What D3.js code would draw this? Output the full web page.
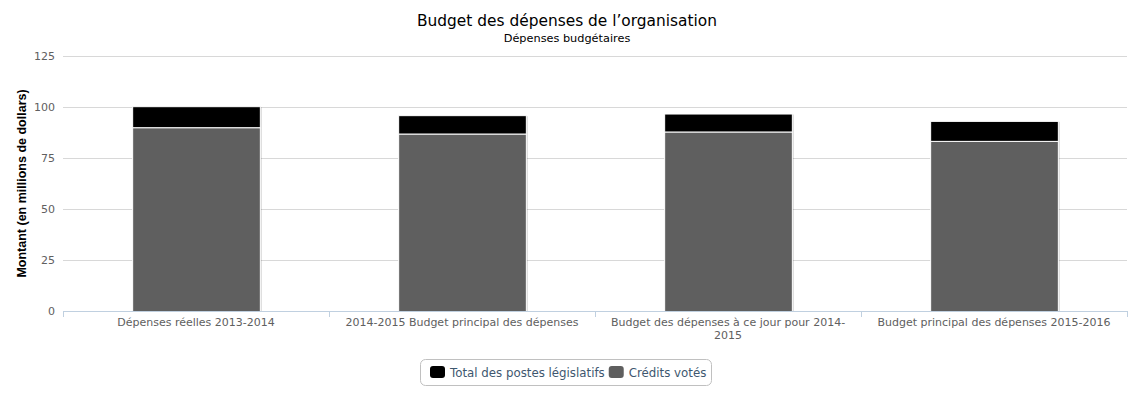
<!DOCTYPE html>
<html><head><meta charset="utf-8">
<script src="https://cdn.jsdelivr.net/npm/d3@7"></script>
<style>body{margin:0;background:#fff}svg{display:block}</style>
</head><body>
<svg id="c" width="1135" height="397"></svg>
<script>
const categories = ["Dépenses réelles 2013-2014", "2014-2015 Budget principal des dépenses", "Budget des dépenses à ce jour pour 2014-2015", "Budget principal des dépenses 2015-2016"];
const creditsVotes = [90.1, 87.0, 88.0, 83.4];
const postesLegislatifs = [10.3, 9.0, 8.8, 9.8];
const yTicks = [0, 25, 50, 75, 100, 125];
const seriesNames = ["Total des postes législatifs", "Crédits votés"];
const seriesColors = ["#000000", "#5f5f5f"];
const title = "Budget des dépenses de l’organisation";
const subtitle = "Dépenses budgétaires";
const yTitle = "Montant (en millions de dollars)";

const svg = d3.select("#c");
const font = "'DejaVu Sans', sans-serif";
const L = 63, R = 1127, T = 56, B = 311;
const x = d3.scaleBand().domain(categories).range([L, R]).paddingInner(0).paddingOuter(0);
const y = d3.scaleLinear().domain([0, 125]).range([B, T]);

// title
svg.append("text").attr("x", 567).attr("y", 26).attr("text-anchor", "middle")
  .style("font-family", font).style("font-size", "15.4px").attr("fill", "#000").text(title);
svg.append("text").attr("x", 567).attr("y", 42).attr("text-anchor", "middle")
  .style("font-family", font).style("font-size", "11.3px").attr("fill", "#000").text(subtitle);

// grid
const yAxis = d3.axisLeft(y).tickValues(yTicks).tickSize(-(R - L)).tickPadding(8);
const gy = svg.append("g").attr("transform", `translate(${L},0)`).call(yAxis);
gy.select(".domain").remove();
gy.selectAll(".tick line").attr("stroke", "#d8d8d8");
gy.selectAll(".tick text").style("font-family", font).style("font-size", "11px").attr("fill", "#606060");

// y title
svg.append("text").attr("transform", `translate(26,${(T + B) / 2}) rotate(-90)`).attr("text-anchor", "middle")
  .style("font-family", "'Liberation Sans', Arial, sans-serif").style("font-size", "12.5px").style("font-weight", "bold")
  .attr("fill", "#000").text(yTitle);

// stacked data
const rows = categories.map((c, i) => ({cat: c, credits: creditsVotes[i], postes: postesLegislatifs[i]}));
const stack = d3.stack().keys(["credits", "postes"])(rows);
const colorFor = {credits: seriesColors[1], postes: seriesColors[0]};
const bw = x.bandwidth() * 0.48;
const bx = d => x(d.data.cat) + (x.bandwidth() - bw) / 2;

const shadowG = svg.append("g");
stack.forEach(s => {
  s.forEach(d => {
    shadowG.append("rect").attr("x", bx(d) + 2).attr("y", y(d[1]) + 1)
      .attr("width", bw).attr("height", y(d[0]) - y(d[1]))
      .attr("fill", "#000").attr("fill-opacity", 0.15);
  });
});
stack.forEach(s => {
  svg.append("g").selectAll("rect").data(s).join("rect")
    .attr("x", d => bx(d) + 0.5).attr("y", d => y(d[1]) + 0.5)
    .attr("width", bw).attr("height", d => y(d[0]) - y(d[1]))
    .attr("fill", colorFor[s.key]).attr("stroke", "#fff").attr("stroke-width", 1);
});

// x axis
const gx = svg.append("g");
gx.append("line").attr("x1", L).attr("x2", R).attr("y1", B + 0.5).attr("y2", B + 0.5).attr("stroke", "#c0d0e0");
const bounds = categories.map(c => x(c)).concat([R]);
gx.selectAll("line.tk").data(bounds).join("line").attr("class", "tk")
  .attr("x1", d => Math.round(d) + 0.5).attr("x2", d => Math.round(d) + 0.5)
  .attr("y1", B).attr("y2", B + 6).attr("stroke", "#c0d0e0");

function wrapLines(txt, maxW, size) {
  const tmp = svg.append("text").style("font-family", font).style("font-size", size + "px");
  const parts = [];
  txt.split(" ").forEach((w, wi, arr) => {
    const segs = w.split(/(?<=-)/);
    segs.forEach((s, si) => parts.push({s, sp: si === segs.length - 1 && wi < arr.length - 1}));
  });
  const lines = [];
  let cur = "";
  parts.forEach(p => {
    const cand = cur + p.s;
    tmp.text(cand.trim());
    if (cur && tmp.node().getComputedTextLength() > maxW) {
      lines.push(cur.trim());
      cur = p.s + (p.sp ? " " : "");
    } else cur = cand + (p.sp ? " " : "");
  });
  if (cur.trim()) lines.push(cur.trim());
  tmp.remove();
  return lines;
}

categories.forEach(c => {
  const lines = wrapLines(c, 236, 11);
  const t = gx.append("text").attr("x", x(c) + x.bandwidth() / 2).attr("y", 326).attr("text-anchor", "middle")
    .style("font-family", font).style("font-size", "11px").attr("fill", "#606060");
  lines.forEach((ln, i) => t.append("tspan").attr("x", x(c) + x.bandwidth() / 2).attr("dy", i ? 13 : 0).text(ln));
});

// legend
const lg = svg.append("g");
lg.append("rect").attr("x", 420.5).attr("y", 359.5).attr("width", 291).attr("height", 26).attr("rx", 5)
  .attr("fill", "#fff").attr("stroke", "#c0c0c0");
let lx = 430;
seriesNames.forEach((n, i) => {
  lg.append("rect").attr("x", lx).attr("y", 366).attr("width", 15).attr("height", 12).attr("rx", 3).attr("fill", seriesColors[i]);
  const t = lg.append("text").attr("x", lx + 20).attr("y", 377).style("font-family", font).style("font-size", "11.8px")
    .attr("fill", "#3e576f").text(n);
  lx += 20 + t.node().getComputedTextLength() + 4;
});
</script>
</body></html>
